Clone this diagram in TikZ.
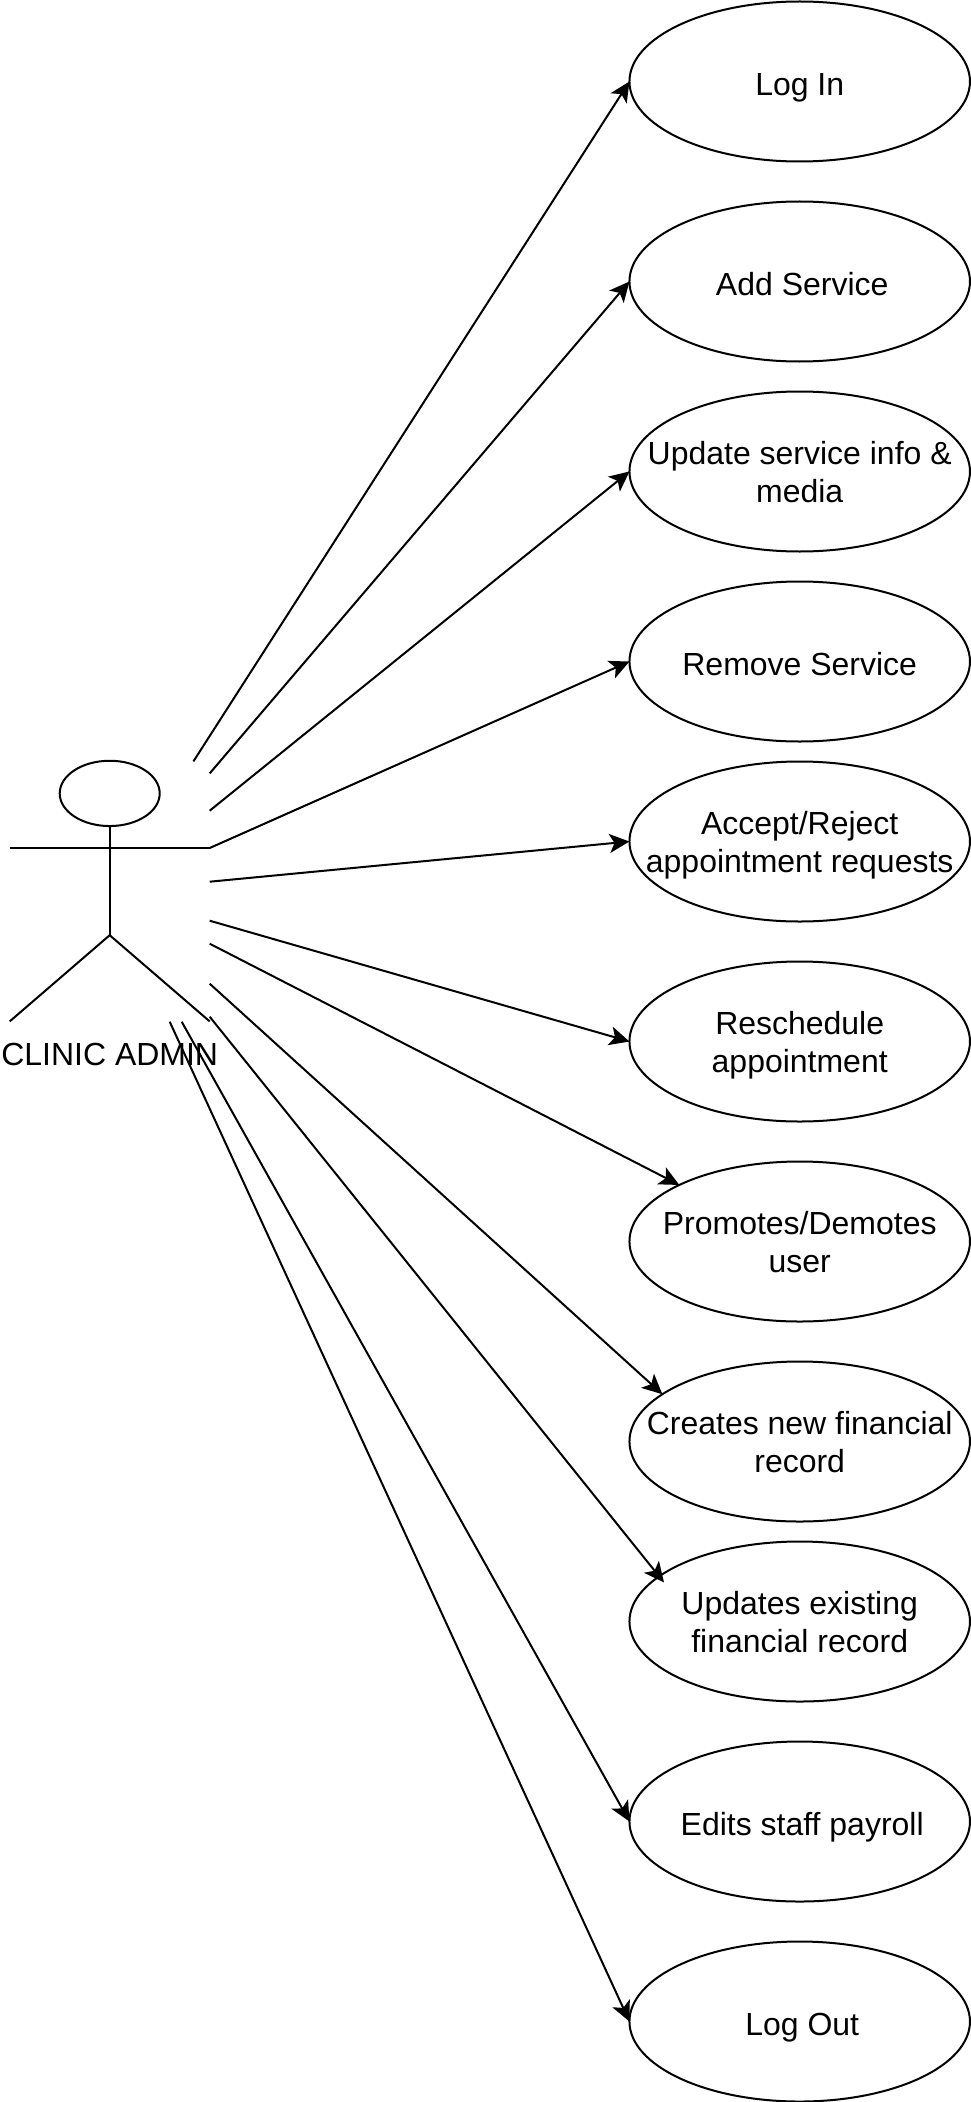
\documentclass[tikz,border=0pt]{standalone}
\usepackage{fontspec}
\setmainfont{Liberation Sans}
\usetikzlibrary{arrows.meta,shapes.geometric}
\tikzset{
  usecase/.style={ellipse, draw, line width=0.02cm, minimum width=3.405cm, minimum height=1.6cm, inner xsep=-1.1cm, inner ysep=-0.5cm, outer sep=0pt, align=center, text depth=0pt, text height=0.616cm, font=\fontsize{9.1pt}{10.7pt}\selectfont},
  oneline/.style={text height=0.28cm},
  nudged/.style={execute at begin node={\hspace*{0.05cm}}},
  assoc/.style={line width=0.02cm, -{Stealth[length=0.2cm,width=0.19cm,inset=0.05cm]}},
  stick/.style={line width=0.02cm}
}
\begin{document}
\begin{tikzpicture}
\useasboundingbox (-0.007,0.007) rectangle (9.693,-21.013);

% actor
\node[ellipse, draw, line width=0.02cm, minimum width=1cm, minimum height=0.653cm, inner sep=0pt, outer sep=0pt] (head) at (1.09,-7.927) {};
\coordinate (hip) at (1.09,-9.345);
\coordinate (handL) at (0.09,-8.473);
\coordinate (handR) at (2.09,-8.473);
\coordinate (footL) at (0.09,-10.207);
\coordinate (footR) at (2.09,-10.207);
\draw[stick] (head) -- (hip);
\draw[stick] (handL) -- (handR);
\draw[stick] (footL) -- (hip) -- (footR);
\node[inner sep=0pt, font=\fontsize{9.1pt}{10.7pt}\selectfont] (actor) at (1.09,-10.54) {CLINIC ADMIN};

% use cases
\node[usecase, oneline] (u1) at (7.99,-0.808) {Log In};
\node[usecase, oneline, nudged] (u2) at (7.99,-2.808) {Add Service};
\node[usecase] (u3) at (7.99,-4.708) {Update service info \&\\media};
\node[usecase, oneline] (u4) at (7.99,-6.608) {Remove Service};
\node[usecase] (u5) at (7.99,-8.408) {Accept/Reject\\appointment requests};
\node[usecase] (u6) at (7.99,-10.408) {Reschedule\\appointment};
\node[usecase] (u7) at (7.99,-12.408) {Promotes/Demotes\\user};
\node[usecase] (u8) at (7.99,-14.408) {Creates new financial\\record};
\node[usecase] (u9) at (7.99,-16.208) {Updates existing\\financial record};
\node[usecase, oneline, nudged] (u10) at (7.99,-18.208) {Edits staff payroll};
\node[usecase, oneline, nudged] (u11) at (7.99,-20.208) {Log Out};

% free ends near the actor
\coordinate (s1) at (1.927,-7.607);
\coordinate (s2) at (2.09,-7.727);
\coordinate (s3) at (2.09,-8.10);
\coordinate (s4) at (2.09,-8.473);
\coordinate (s5) at (2.09,-8.81);
\coordinate (s6) at (2.09,-9.20);
\coordinate (s7) at (2.09,-9.43);
\coordinate (s8) at (2.09,-9.83);
\coordinate (s9) at (2.09,-10.16);
\coordinate (s10) at (1.81,-10.21);
\coordinate (s11) at (1.69,-10.21);
\coordinate (t9) at (6.633,-15.817);

\draw[assoc] (s1) -- (u1.west);
\draw[assoc] (s2) -- (u2.west);
\draw[assoc] (s3) -- (u3.west);
\draw[assoc] (s4) -- (u4.west);
\draw[assoc] (s5) -- (u5.west);
\draw[assoc] (s6) -- (u6.west);
\draw[assoc] (s7) -- (u7.north west);
\draw[assoc] (s8) -- (u8.161);
\draw[assoc] (s9) -- (t9);
\draw[assoc] (s10) -- (u10.west);
\draw[assoc] (s11) -- (u11.west);
\end{tikzpicture}
\end{document}
